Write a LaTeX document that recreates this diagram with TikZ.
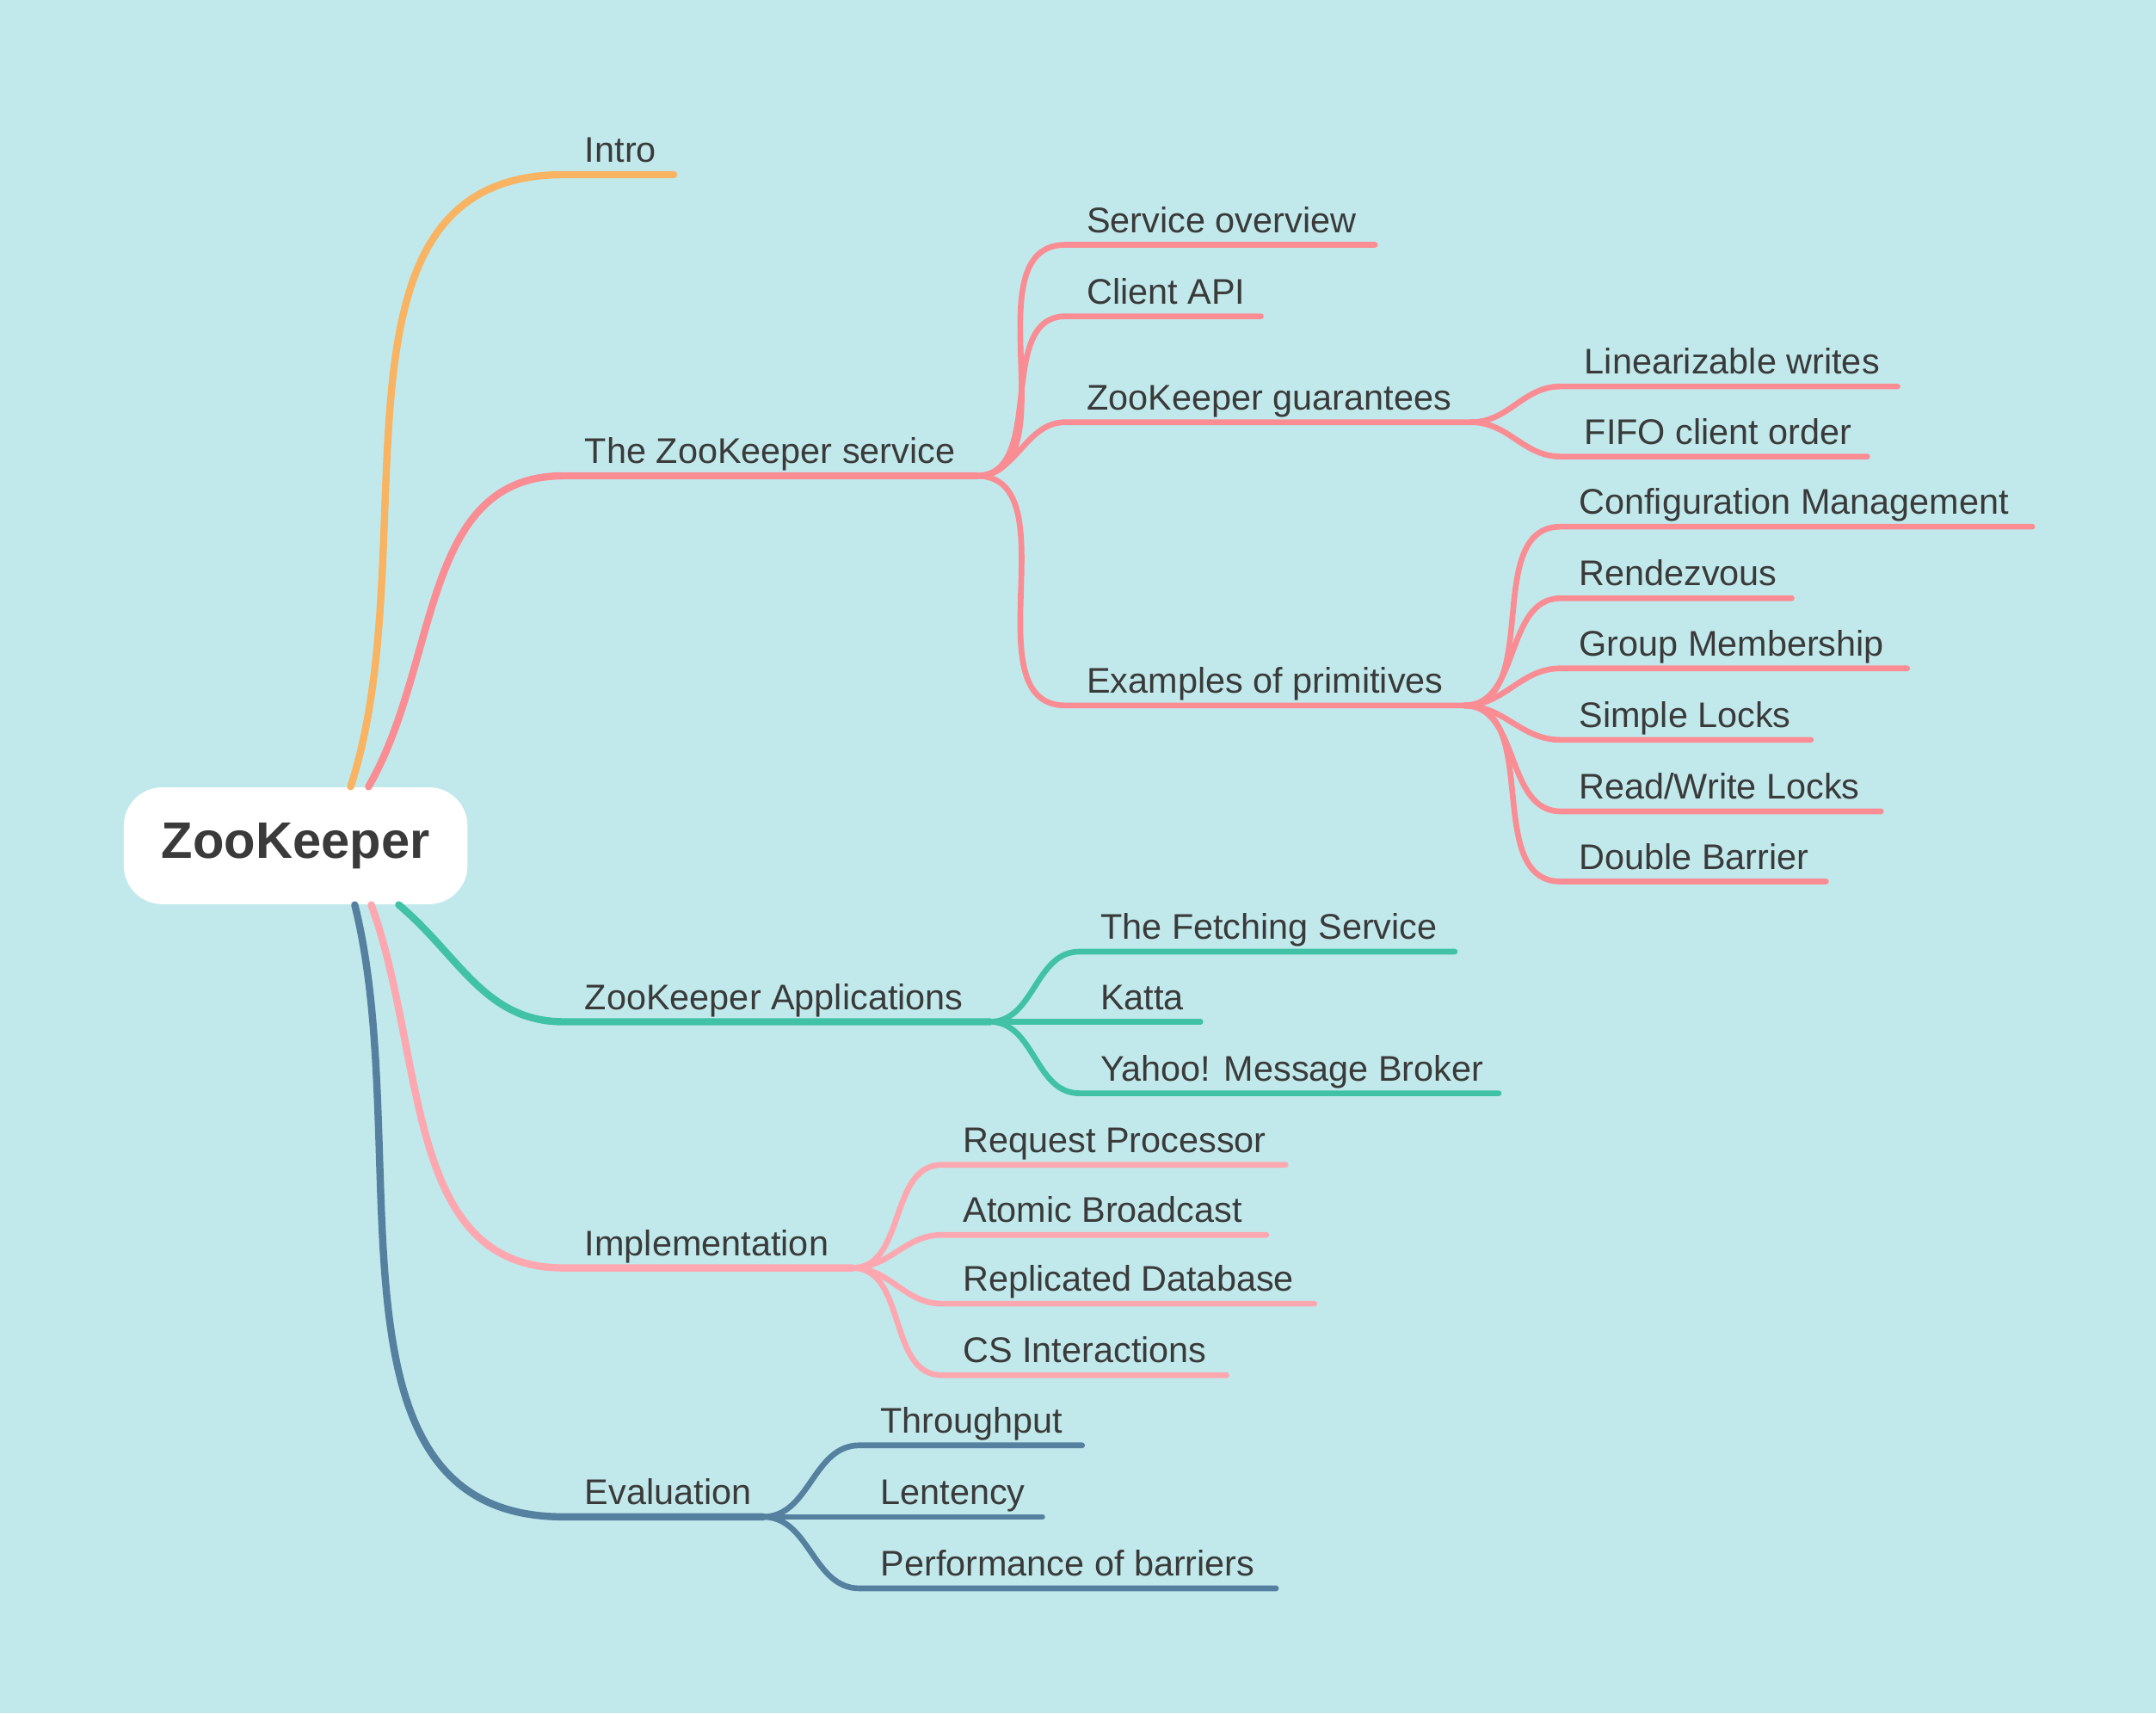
\documentclass[tikz,border=0pt]{standalone}
\usepackage{fontspec}
\setmainfont{Liberation Sans}
\usetikzlibrary{positioning,calc}
\definecolor{bgc}{HTML}{C1E9EB}
\definecolor{txt}{HTML}{3A3A3A}
\definecolor{cintro}{HTML}{F8B463}
\definecolor{cserv}{HTML}{FA8C94}
\definecolor{capp}{HTML}{41C2A6}
\definecolor{cimpl}{HTML}{FDA7B0}
\definecolor{ceval}{HTML}{55809F}

\begin{document}
\begin{tikzpicture}[
    x=0.016cm, y=0.016cm,
    root/.style={rectangle, rounded corners=0.45cm, fill=white, minimum width=250*0.016cm, minimum height=85*0.016cm, font=\fontsize{17}{20}\selectfont\bfseries, text=txt},
    lbl/.style={anchor=base west, inner sep=0pt, font=\fontsize{11.8}{14}\selectfont, text=txt},
    main/.style={line width=2.4pt, line cap=round},
    sub/.style={line width=1.9pt, line cap=round},
]
\fill[bgc] (0,0) rectangle (1568,-1246);
\useasboundingbox (0,0) rectangle (1568,-1246);

% Root
\node[root] (zk) at (215,-615) {ZooKeeper};

% Main branches
\foreach \n/\y/\e/\dx/\side/\o/\c/\t in {
    intro/127/490/40/north/72/cintro/Intro,
    serv/346/710/53/north/60/cserv/The ZooKeeper service,
    app/743/720/75/south/-40/capp/ZooKeeper Applications,
    impl/922/620/55/south/-70/cimpl/Implementation,
    eval/1103/555/43/south/-76/ceval/Evaluation}{
  \coordinate (\n-a) at (410,-\y);
  \coordinate (\n-b) at (\e,-\y);
  \draw[main, \c] ($(zk.\side)+(\dx,0)$) to[out=\o, in=180] (\n-a) -- (\n-b);
  \node[lbl] (\n) at ({410+15},{-\y+9}) {\t};
}

% The ZooKeeper service
\foreach \n/\y/\e/\t in {
    ov/178/1000/Service overview,
    api/230/917/Client API,
    guar/307/1070/ZooKeeper guarantees,
    prim/513/1065/Examples of primitives}{
  \coordinate (\n-a) at (775,-\y);
  \coordinate (\n-b) at (\e,-\y);
  \draw[sub, cserv] (serv-b) to[out=0, in=180] (\n-a) -- (\n-b);
  \node[lbl] (\n) at (790,{-\y+9}) {\t};
}
\foreach \n/\y/\e/\t in {
    lin/281/1380/Linearizable writes,
    fifo/332/1358/FIFO client order}{
  \coordinate (\n-a) at (1135,-\y);
  \coordinate (\n-b) at (\e,-\y);
  \draw[sub, cserv] (guar-b) to[out=0, in=180] (\n-a) -- (\n-b);
  \node[lbl] (\n) at (1152,{-\y+9}) {\t};
}
\foreach \n/\y/\e/\t in {
    conf/383/1478/Configuration Management,
    rdv/435/1303/Rendezvous,
    grp/486/1387/Group Membership,
    slk/538/1317/Simple Locks,
    rwl/590/1368/{Read/Write Locks},
    dbl/641/1328/Double Barrier}{
  \coordinate (\n-a) at (1135,-\y);
  \coordinate (\n-b) at (\e,-\y);
  \draw[sub, cserv] (prim-b) to[out=0, in=180] (\n-a) -- (\n-b);
  \node[lbl] (\n) at (1148,{-\y+9}) {\t};
}

% ZooKeeper Applications
\foreach \n/\y/\e/\t in {
    fetch/692/1058/The Fetching Service,
    katta/743/873/Katta,
    ymb/795/1090/Yahoo! Message Broker}{
  \coordinate (\n-a) at (785,-\y);
  \coordinate (\n-b) at (\e,-\y);
  \draw[sub, capp] (app-b) to[out=0, in=180] (\n-a) -- (\n-b);
  \node[lbl] (\n) at (800,{-\y+9}) {\t};
}

% Implementation
\foreach \n/\y/\e/\t in {
    req/847/935/Request Processor,
    atom/898/921/Atomic Broadcast,
    repl/948/956/Replicated Database,
    csi/1000/892/CS Interactions}{
  \coordinate (\n-a) at (685,-\y);
  \coordinate (\n-b) at (\e,-\y);
  \draw[sub, cimpl] (impl-b) to[out=0, in=180] (\n-a) -- (\n-b);
  \node[lbl] (\n) at (700,{-\y+9}) {\t};
}

% Evaluation
\foreach \n/\y/\e/\t in {
    thr/1051/787/Throughput,
    lat/1103/758/Lentency,
    bar/1155/928/Performance of barriers}{
  \coordinate (\n-a) at (625,-\y);
  \coordinate (\n-b) at (\e,-\y);
  \draw[sub, ceval] (eval-b) to[out=0, in=180] (\n-a) -- (\n-b);
  \node[lbl] (\n) at (640,{-\y+9}) {\t};
}

\end{tikzpicture}
\end{document}
